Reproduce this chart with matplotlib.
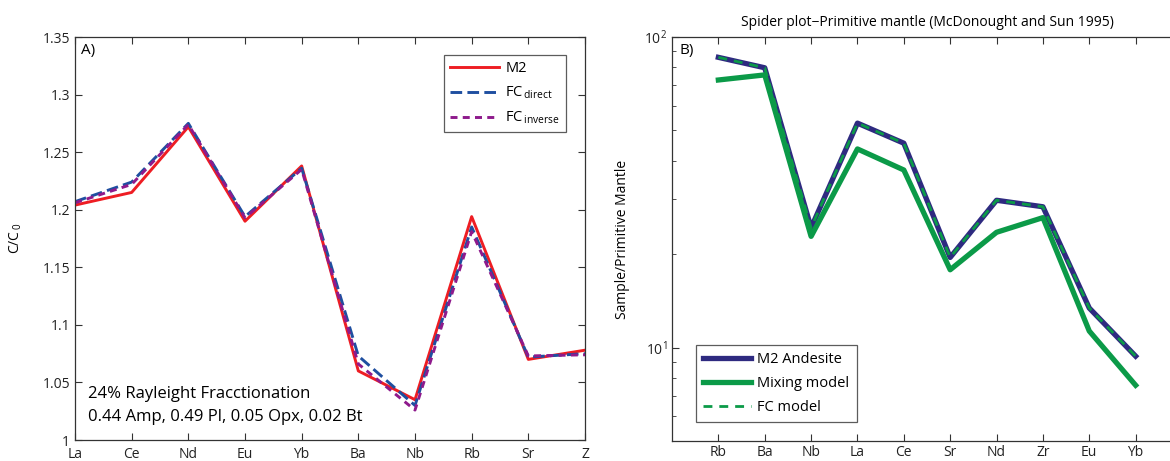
import numpy as np
import matplotlib.pyplot as plt
from matplotlib.lines import Line2D

plt.rcParams['font.family'] = ['Open Sans', 'DejaVu Sans']
plt.rcParams['mathtext.fontset'] = 'custom'
plt.rcParams['mathtext.rm'] = 'Open Sans'
plt.rcParams['mathtext.it'] = 'Open Sans'

# -A- Rayleigh fractionation, C/C0
elems_a = ['La', 'Ce', 'Nd', 'Eu', 'Yb', 'Ba', 'Nb', 'Rb', 'Sr', 'Z']
m2 = [1.204, 1.215, 1.272, 1.190, 1.238, 1.060, 1.035, 1.194, 1.070, 1.078]
fc_direct = [1.207, 1.224, 1.275, 1.194, 1.236, 1.073, 1.030, 1.185, 1.072, 1.075]
fc_inverse = [1.206, 1.222, 1.274, 1.193, 1.235, 1.066, 1.026, 1.181, 1.073, 1.074]

# -B- spider plot, primitive mantle normalised
elems_b = ['Rb', 'Ba', 'Nb', 'La', 'Ce', 'Sr', 'Nd', 'Zr', 'Eu', 'Yb']
m2_andesite = [86.0, 79.6, 24.3, 52.8, 45.5, 19.5, 29.8, 28.4, 13.4, 9.38]
mixing = [72.7, 75.5, 22.8, 43.6, 37.3, 17.8, 23.5, 26.2, 11.3, 7.56]
fc_model = [86.0, 79.6, 24.3, 52.8, 45.5, 19.5, 29.8, 28.4, 13.4, 9.38]

W, H = 1170, 461
fig = plt.figure(figsize=(W/100, H/100), dpi=100)
axc = '#333333'

def style(ax):
    for s in ax.spines.values():
        s.set_color(axc)
        s.set_linewidth(0.9)
    ax.tick_params(which='both', direction='in', colors=axc, labelcolor='#222222',
                   labelsize=10, top=True, right=True)
    ax.tick_params(which='major', length=5)
    ax.tick_params(axis='x', pad=3)

# ---- panel A
ax1 = fig.add_axes([75/W, 21/H, 510/W, 403/H])
x = np.arange(1, len(elems_a)+1)
ax1.plot(x, m2, color='#ee1d23', lw=2.1, label='M2')
ax1.plot(x, fc_direct, color='#1f4fa0', lw=2.1, dashes=(4, 1.8), label='FC$_{\\,\\mathrm{direct}}$')
ax1.plot(x, fc_inverse, color='#8e1a8c', lw=2.1, dashes=(2.4, 1.8), label='FC$_{\\,\\mathrm{inverse}}$')
ax1.set_xlim(1, 10)
ax1.set_ylim(1, 1.35)
ax1.set_xticks(x)
ax1.set_xticklabels(elems_a)
ax1.set_yticks([1, 1.05, 1.1, 1.15, 1.2, 1.25, 1.3, 1.35])
ax1.set_yticklabels(['1', '1.05', '1.1', '1.15', '1.2', '1.25', '1.3', '1.35'])
style(ax1)
ax1.tick_params(axis='x', pad=5)
ax1.set_ylabel('C/C$_{\\,0}$', fontsize=10)
ax1.yaxis.set_label_coords(-0.1, 0.5)
ax1.text(0.012, 0.985, 'A)', transform=ax1.transAxes, ha='left', va='top', fontsize=11)
ax1.text(0.025, 0.114, '24% Rayleight Fracctionation', transform=ax1.transAxes,
         ha='left', va='center', fontsize=12)
ax1.text(0.025, 0.058, '0.44 Amp, 0.49 Pl, 0.05 Opx, 0.02 Bt', transform=ax1.transAxes,
         ha='left', va='center', fontsize=12)
leg1 = ax1.legend(loc='upper left', bbox_to_anchor=(0.7235, 0.955), fontsize=10.5,
                  handlelength=3.4, frameon=True, fancybox=False, borderpad=0.4,
                  borderaxespad=0, labelspacing=0.6, handletextpad=0.4,
                  edgecolor='#333333')
leg1.get_frame().set_linewidth(0.9)

# ---- panel B
ax2 = fig.add_axes([672/W, 20/H, 510/W, 404/H])
xb = np.arange(1, len(elems_b)+1)
ax2.semilogy(xb, m2_andesite, color='#2e2a80', lw=3.8, label='M2 Andesite')
ax2.semilogy(xb, mixing, color='#0b9a48', lw=3.8, label='Mixing model')
ax2.semilogy(xb, fc_model, color='#0b9a48', lw=2.0, dashes=(3.2, 2.5), label='FC model')
ax2.set_xlim(0, 11)
ax2.set_ylim(5, 100)
ax2.set_xticks(xb)
ax2.set_xticklabels(elems_b)
style(ax2)
ax2.spines['right'].set_visible(False)
ax2.tick_params(which='minor', length=3)
ax2.set_ylabel('Sample/Primitive Mantle', fontsize=10)
ax2.yaxis.set_label_coords(-0.082, 0.5)
ax2.set_title('Spider plot\u2212Primitive mantle (McDonought and Sun 1995)', fontsize=10, pad=8)
ax2.text(0.015, 0.985, 'B)', transform=ax2.transAxes, ha='left', va='top', fontsize=11)
h = [Line2D([], [], color='#2e2a80', lw=3.8),
     Line2D([], [], color='#0b9a48', lw=3.8),
     Line2D([], [], color='#0b9a48', lw=2.0, dashes=(3.2, 2.5))]
leg2 = ax2.legend(h, ['M2 Andesite', 'Mixing model', 'FC model'], loc='lower left',
                  bbox_to_anchor=(0.047, 0.047), fontsize=10.5, handlelength=3.3,
                  frameon=True, fancybox=False, borderpad=0.5, borderaxespad=0,
                  labelspacing=0.6, handletextpad=0.4, edgecolor='#333333')
leg2.get_frame().set_linewidth(0.9)

fig.savefig('out.png', dpi=100)
